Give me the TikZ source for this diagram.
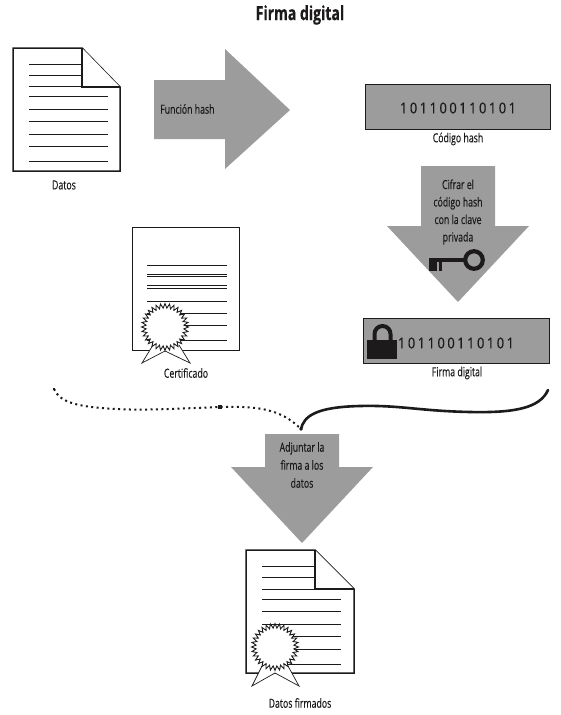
\documentclass[tikz,border=0pt]{standalone}
\usepackage{fontspec}
\setmainfont[FakeStretch=0.70,FakeBold=0.25]{Open Sans}
\newfontfamily\digitfont[FakeStretch=0.86,FakeBold=0.2]{Open Sans}
\newfontfamily\titlefont[FakeStretch=0.72,FakeBold=0.4]{Open Sans}
\usetikzlibrary{shapes.geometric}
\definecolor{panelgray}{HTML}{9C9C9C}
\definecolor{inkblack}{HTML}{1C1A1B}
\tikzset{
  x=1pt,y=-1pt,
  bigarrow/.style={fill=panelgray,draw=none},
  caption/.style={font=\fontsize{12.5}{14}\selectfont,text=inkblack,inner sep=0pt},
  arrowtext/.style={font=\fontsize{12.5}{17.5}\selectfont,text=inkblack,inner sep=0pt,align=center},
  codebox/.style={fill=panelgray,draw=inkblack,line width=1pt,inner sep=0pt},
  bits/.style={font=\digitfont\fontsize{15}{16}\selectfont,text=inkblack,inner sep=0pt},
  page/.style={fill=white,draw=inkblack,line width=1.5pt,line join=miter},
  certpage/.style={fill=white,draw=inkblack,line width=1pt},
  rule/.style={draw=inkblack,line width=1pt},
  sealstar/.style={star,star points=32,star point ratio=1.24,minimum size=47pt,inner sep=0pt,draw=inkblack,line width=0.9pt,fill=white},
  sealinner/.style={circle,minimum size=34pt,inner sep=0pt,fill=white},
  ribbon/.style={draw=inkblack,line width=0.7pt,fill=white,line join=miter},
}
\begin{document}
\begin{tikzpicture}
\useasboundingbox (0,0) rectangle (561,715);
\node[font=\titlefont\bfseries\fontsize{19.5}{21}\selectfont,text=inkblack,inner sep=0pt] (title) at (300,15) {Firma digital};

% Datos document
\draw[page] (13,48) -- (82,48) -- (120,87) -- (120,171) -- (13,171) -- cycle;
\draw[page] (82,48) -- (82,87) -- (120,87);
\foreach \yy in {64,75,86} \draw[rule] (29,\yy) -- (81,\yy);
\foreach \yy in {96,109,121,134,146,161} \draw[rule] (29,\yy) -- (108,\yy);
\node[caption] (datos) at (64,185) {Datos};

% Hash arrow
\fill[bigarrow] (154,80) -- (225,80) -- (225,49) -- (290,110) -- (225,169) -- (225,139) -- (154,139) -- cycle;
\node[caption,anchor=west] (fhash) at (160,109) {Función hash};

% Hash code
\node[codebox,minimum width=185pt,minimum height=45pt] (hashbox) at (458,106.5) {};
\node[bits] (hashbits) at (458,108) {1\,0\,1\,1\,0\,0\,1\,1\,0\,1\,0\,1};
\node[caption] (hashcap) at (458,139) {Código hash};

% Encrypt arrow
\fill[bigarrow] (421,166) -- (495,166) -- (495,226) -- (529,226) -- (458,302) -- (387,226) -- (421,226) -- cycle;
\node[arrowtext] (cifrar) at (458,212) {Cifrar el\\código hash\\con la clave\\privada};

% Key
\draw[inkblack,line width=4.2pt] (474,260) circle (8.8);
\fill[inkblack] (429,257.7) rectangle (466,262.3);
\fill[inkblack] (429,257.7) rectangle (437.3,271);
\fill[inkblack] (439,257.7) rectangle (442,271);

% Signature box
\node[codebox,minimum width=186pt,minimum height=45pt] (firmabox) at (456,340.5) {};
\node[bits] (firmabits) at (456,343) {1\,0\,1\,1\,0\,0\,1\,1\,0\,1\,0\,1};
\node[caption] (firmacap) at (457,373) {Firma digital};

% Lock
\draw[inkblack,line width=4pt] (374.5,342) -- (374.5,334) arc[start angle=180,end angle=360,radius=8] -- (390.5,342);
\fill[inkblack] (367,340) rectangle (397,358.5);

% Certificate
\draw[certpage] (132,227) rectangle (239,350);
\foreach \yy in {265,274,276.5,285.5,288.5,301.5,313.5,325.5,340.5} \draw[rule,line width=0.9pt] (147,\yy) -- (227,\yy);
\draw[ribbon] (153,345) -- (142,363) -- (165,351) -- (190,363) -- (179,345);
\node[sealstar] (seala) at (165,327) {};
\node[sealinner] at (165,327) {};
\node[caption] (certcap) at (186,373) {Certificado};

% Connectors
\coordinate (certend) at (54,389);
\coordinate (signend) at (548,390);
\coordinate (joinpt) at (301,429);
\coordinate (midsq) at (220,407);
\draw[inkblack,line width=2pt,dash pattern=on 2pt off 3.4pt]
  (certend) .. controls (60,402) and (75,408) .. (130,409.5) .. controls (160,410) and (190,408) .. (midsq)
  .. controls (255,406) and (280,408) .. (joinpt);
\fill[inkblack] (midsq) ++(-1.6,-1.6) rectangle ++(3.2,3.2);
\fill[inkblack] (certend) ++(-1.3,-1.3) rectangle ++(2.6,2.6);
\fill[inkblack] (joinpt) circle (1.9);
\draw[inkblack,line width=2.6pt,line cap=round] (joinpt) .. controls (304,416) and (316,407) .. (360,406)
  .. controls (400,405) and (420,411) .. (470,412) .. controls (515,413) and (540,408) .. (signend);

% Attach arrow
\fill[bigarrow] (265,434) -- (339,434) -- (339,467) -- (373,467) -- (302,543) -- (231,467) -- (265,467) -- cycle;
\node[arrowtext,font=\fontsize{12.5}{18}\selectfont] (adjuntar) at (302,465) {Adjuntar la\\firma a los\\datos};

% Signed document
\draw[page] (246,550) -- (315,550) -- (354,589) -- (354,673) -- (246,673) -- cycle;
\draw[page] (315,550) -- (315,589) -- (354,589);
\foreach \yy in {566,577,589} \draw[rule] (262,\yy) -- (314,\yy);
\foreach \yy in {599,611,624,636,649,664} \draw[rule] (262,\yy) -- (341,\yy);
\draw[ribbon] (262,666) -- (252,686) -- (275,673) -- (299,686) -- (288,666);
\node[sealstar] (sealb) at (275,647) {};
\node[sealinner] at (275,647) {};
\node[caption] (firmados) at (300,703) {Datos firmados};
\end{tikzpicture}
\end{document}
